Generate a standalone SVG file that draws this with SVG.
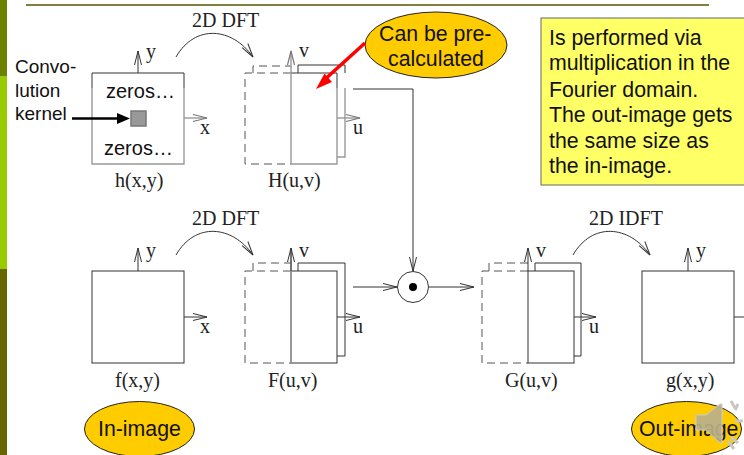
<svg xmlns="http://www.w3.org/2000/svg" width="744" height="455" viewBox="0 0 744 455">
<defs>
<marker id="open2" markerUnits="userSpaceOnUse" markerWidth="18" markerHeight="12" refX="16" refY="6" orient="auto"><path d="M2 2.500L16 6L2 9.500" fill="none" stroke="#333" stroke-width="1"/></marker>
<marker id="open3" markerUnits="userSpaceOnUse" markerWidth="18" markerHeight="12" refX="16" refY="6" orient="auto"><path d="M2 2.500L16 6L2 9.500" fill="none" stroke="#777" stroke-width="1.200"/></marker>
</defs>
<style>
.s{font-family:"Liberation Serif","Times New Roman",serif;font-size:20px;fill:#222}
.a{font-family:"Liberation Sans",Arial,sans-serif;font-size:21.300px;fill:#111}
.c{font-family:"Liberation Sans",Arial,sans-serif;font-size:19px;fill:#111}
.z{font-family:"Liberation Sans",Arial,sans-serif;font-size:20px;fill:#111}
.b{fill:#fff;stroke:#333;stroke-width:1}
.g{fill:none;stroke:#999;stroke-width:1.400}
.d{fill:none;stroke:#555;stroke-width:1;stroke-dasharray:8 5}
.l{fill:none;stroke:#333;stroke-width:1}
.e{fill:#fc0;stroke:#222;stroke-width:1}
</style>
<rect width="744" height="455" fill="#fff"/>
<rect width="7" height="76" fill="#6b8000"/>
<rect y="76" width="7" height="193" fill="#99cc00"/>
<rect y="269" width="7" height="186" fill="#666600"/>
<rect x="26" y="4" width="683" height="2" fill="#807f3f"/>
<g id="connectors">
<path class="l" d="M176 57C195 24 232 27 253 57" marker-end="url(#open2)"/>
<path class="l" d="M176 255C195 222 232 225 253 255" marker-end="url(#open2)"/>
<path class="l" d="M573 255C592 222 629 225 650 255" marker-end="url(#open2)"/>
<path class="l" d="M353 89H413V271" marker-end="url(#open2)"/>
<path class="l" d="M353 287H397" marker-end="url(#open2)"/>
<path class="l" d="M429 287H474" marker-end="url(#open2)"/>
</g>
<g id="h"><path class="l" d="M92 73H184"/><path class="g" d="M92 88V164H184V88"/><path class="l" d="M92 73V88M184 73V88"/>
<path class="l" d="M138 73V51" marker-end="url(#open2)"/><path class="g" d="M184 118H207" marker-end="url(#open3)"/>
<text class="s" x="146" y="58">y</text><text class="s" x="200" y="134">x</text><text class="s" x="115" y="187">h(x,y)</text>
<text class="z" x="106" y="98">zeros…</text><text class="z" x="104" y="155">zeros…</text>
<rect x="131" y="111" width="15" height="15" fill="#999" stroke="#777" stroke-width="1.500"/></g>
<g id="H"><path class="l" d="M298 73V65H345V73"/><path class="g" d="M345 88V157H337"/><path class="d" d="M253 73V66H291"/><path class="d" d="M291 73H245V164H291"/>
<path class="l" d="M291 73H337"/><path class="g" d="M291 73V164H337V88"/><path class="l" d="M337 73V88"/>
<path class="g" d="M291 73V51" marker-end="url(#open3)"/><path class="g" d="M337 118H360" marker-end="url(#open3)"/>
<text class="s" x="299" y="57">v</text><text class="s" x="353" y="134">u</text><text class="s" x="268" y="187">H(u,v)</text></g>
<g id="f"><rect class="b" x="92" y="271" width="92" height="92"/><path class="l" d="M138 271V248" marker-end="url(#open2)"/><path class="l" d="M184 317H207" marker-end="url(#open2)"/>
<text class="s" x="146" y="257">y</text><text class="s" x="200" y="333">x</text><text class="s" x="115" y="387">f(x,y)</text></g>
<g id="F"><path class="l" d="M298 271V263H345V356H337"/><path class="d" d="M253 271V263H291"/><path class="d" d="M291 271H245V363H291"/><rect class="b" x="291" y="271" width="46" height="92"/>
<path class="g" d="M291 363V248"/><path class="l" d="M291 271V248" marker-end="url(#open2)"/><path class="l" d="M337 317H360" marker-end="url(#open2)"/>
<text class="s" x="299" y="257">v</text><text class="s" x="353" y="333">u</text><text class="s" x="268" y="387">F(u,v)</text></g>
<g id="op"><circle class="b" cx="413" cy="287" r="15.500"/><circle cx="413" cy="287" r="4" fill="#000"/></g>
<g id="G"><path class="l" d="M535 271V263H581V356H573"/><path class="d" d="M489 271V263H528"/><path class="d" d="M528 271H482V363H528"/><rect class="b" x="528" y="271" width="46" height="92"/>
<path class="l" d="M528 271V248" marker-end="url(#open2)"/><path class="l" d="M574 317H596" marker-end="url(#open2)"/>
<text class="s" x="536" y="257">v</text><text class="s" x="589" y="333">u</text><text class="s" x="505" y="387">G(u,v)</text></g>
<g id="g"><rect class="b" x="642" y="271" width="92" height="92"/><path class="l" d="M688 271V248" marker-end="url(#open2)"/><path class="l" d="M734 317H752"/>
<text class="s" x="696" y="257">y</text><text class="s" x="666" y="387">g(x,y)</text></g>
<g id="label-2d"><text class="s" x="192" y="27">2D DFT</text><text class="s" x="192" y="225">2D DFT</text><text class="s" x="589" y="225">2D IDFT</text></g>
<g id="kernel"><text class="c" x="15" y="73">Convo-</text><text class="c" x="15" y="97">lution</text><text class="c" x="15" y="120">kernel</text>
<path d="M72 118.500H120" stroke="#000" stroke-width="2.500"/><path d="M130 118.500L117 113V124Z" fill="#000"/></g>
<g id="pre"><ellipse class="e" cx="436" cy="45" rx="71" ry="33"/><text class="a" x="379" y="41">Can be pre-</text><text class="a" x="388" y="66">calculated</text>
<path d="M365 43L322 82" stroke="#f00" stroke-width="3.500"/><path d="M316 89L324.500 73.500L332 82Z" fill="#f00"/></g>
<g id="note"><rect x="541" y="18" width="210" height="167" fill="#ff6" stroke="#666" stroke-width="1"/>
<text class="a" x="549" y="45">Is performed via</text><text class="a" x="549" y="70">multiplication in the</text><text class="a" x="549" y="97">Fourier domain.</text><text class="a" x="549" y="122">The out-image gets</text><text class="a" x="549" y="148">the same size as</text><text class="a" x="549" y="173">the in-image.</text></g>
<g id="in"><ellipse class="e" cx="139.500" cy="429" rx="55" ry="27.500"/><text class="a" x="98" y="436">In-image</text></g>
<g id="out"><ellipse class="e" cx="686.500" cy="429" rx="55" ry="27.500"/><text class="a" x="639" y="436">Out-image</text></g>
<g id="speaker"><path d="M696 415H706L720 404H722V443H720L706 430H696Z" fill="#b9b08c" fill-opacity=".92" stroke="#ccc" stroke-width="1"/>
<path d="M731 401L735 408M738 404L735 410M735 421H743M731 437L738 443M728 441L734 449" stroke="#c8c8c0" stroke-width="3" fill="none"/></g>
</svg>
